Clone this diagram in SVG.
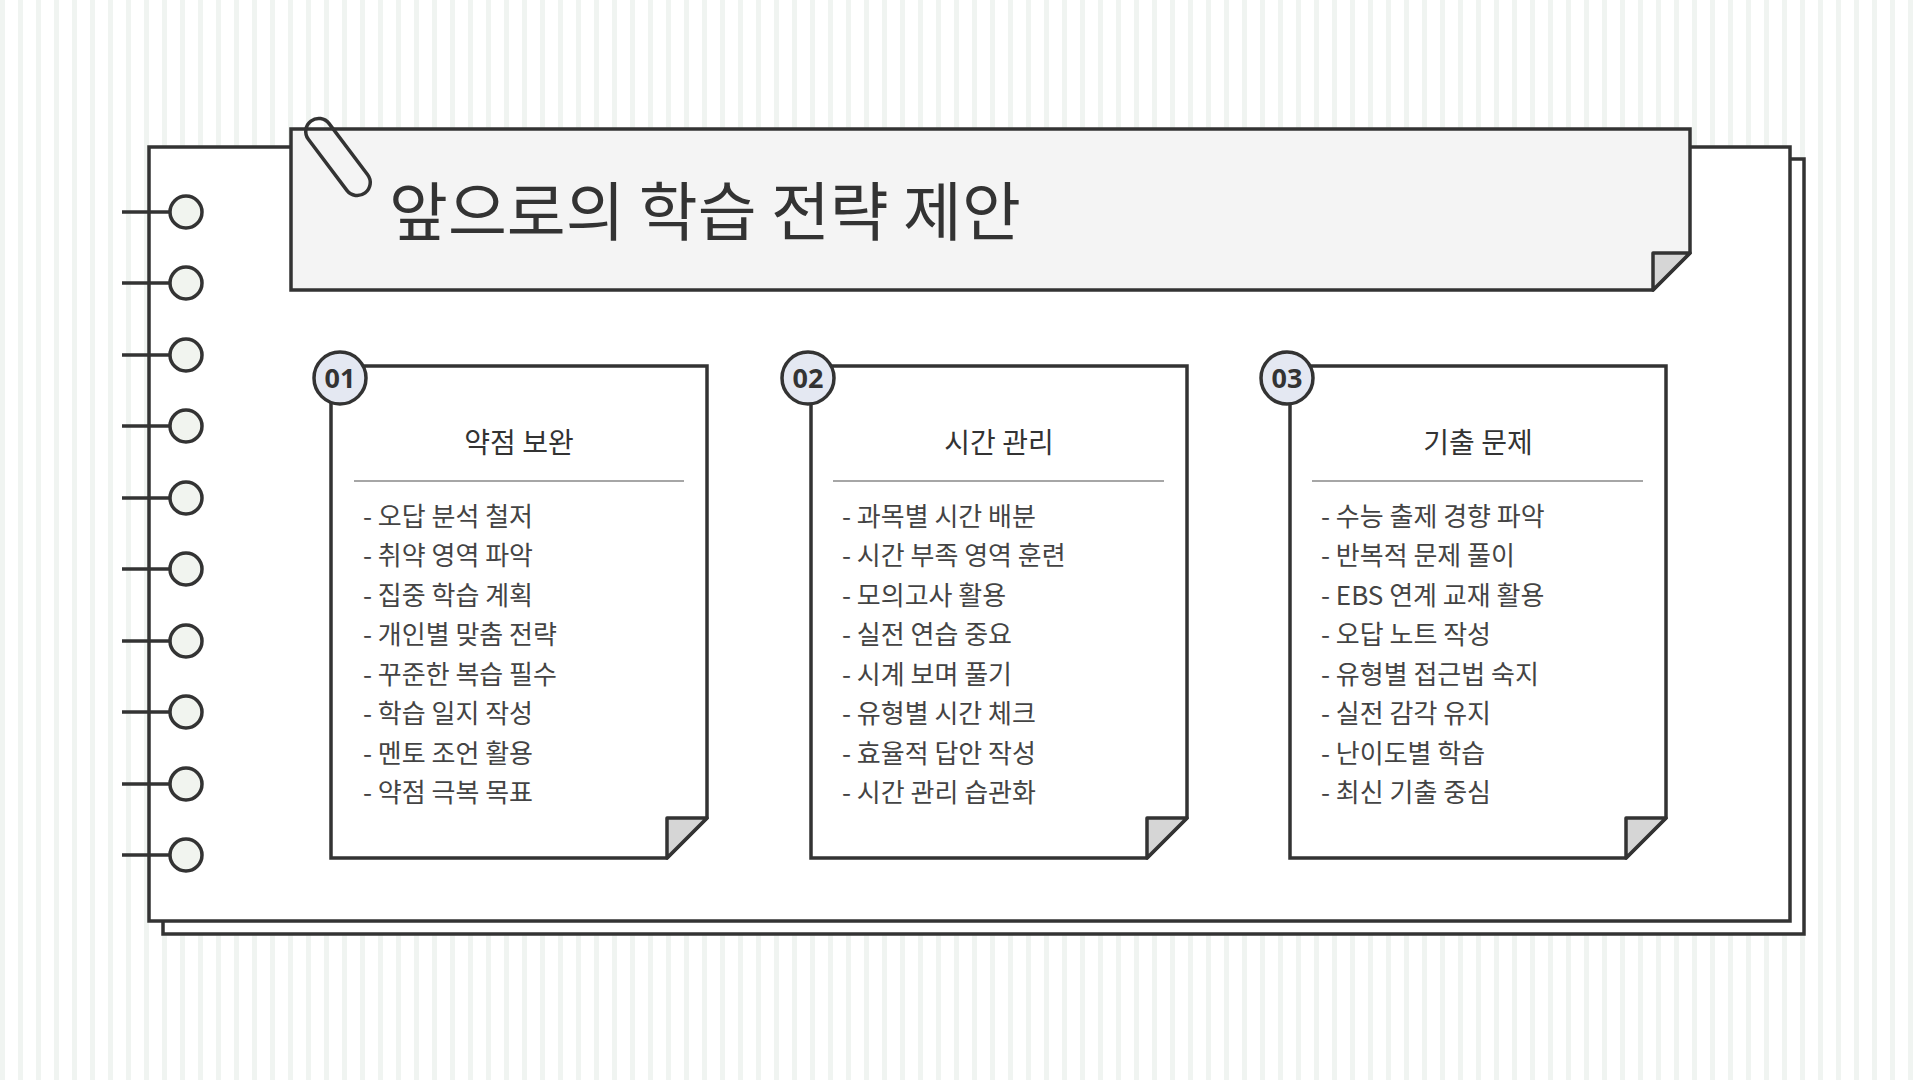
<svg xmlns="http://www.w3.org/2000/svg" width="1920" height="1080" viewBox="0 0 1920 1080">
<defs>
<pattern id="stripes" width="18" height="18" patternUnits="userSpaceOnUse"><rect width="18" height="18" fill="#ffffff"/><rect x="0" width="5" height="18" fill="#f0f4f1"/></pattern>
<style>
.ln{fill:none;stroke:#333;stroke-width:3.5}
.page{fill:#fff;stroke:#333;stroke-width:3.5}
.fold{fill:#d6d6d6;stroke:#333;stroke-width:3.5;stroke-linejoin:round}
.ring{fill:#f1f4ef;stroke:#333;stroke-width:3.5}
.badge{fill:#e4e8f2;stroke:#333;stroke-width:3.5}
.bt{font-family:"Noto Sans","Noto Sans CJK KR",sans-serif;font-weight:700;font-size:27px;fill:#333;text-anchor:middle}
.ct{font-family:"Noto Sans CJK KR",sans-serif;font-size:28px;fill:#333;text-anchor:middle}
.it{font-family:"Noto Sans CJK KR",sans-serif;font-size:26px;fill:#444}
.dv{stroke:#888;stroke-width:1.5}
</style>
</defs>
<rect width="1920" height="1080" fill="url(#stripes)"/>
<rect x="163" y="159" width="1641" height="775" class="page"/>
<rect x="149" y="147" width="1641" height="774" class="page"/>
<g id="rings">
<g><line x1="122" y1="212" x2="186" y2="212" class="ln"/><circle cx="186" cy="212" r="16" class="ring"/></g>
<g><line x1="122" y1="283" x2="186" y2="283" class="ln"/><circle cx="186" cy="283" r="16" class="ring"/></g>
<g><line x1="122" y1="355" x2="186" y2="355" class="ln"/><circle cx="186" cy="355" r="16" class="ring"/></g>
<g><line x1="122" y1="426" x2="186" y2="426" class="ln"/><circle cx="186" cy="426" r="16" class="ring"/></g>
<g><line x1="122" y1="498" x2="186" y2="498" class="ln"/><circle cx="186" cy="498" r="16" class="ring"/></g>
<g><line x1="122" y1="569" x2="186" y2="569" class="ln"/><circle cx="186" cy="569" r="16" class="ring"/></g>
<g><line x1="122" y1="641" x2="186" y2="641" class="ln"/><circle cx="186" cy="641" r="16" class="ring"/></g>
<g><line x1="122" y1="712" x2="186" y2="712" class="ln"/><circle cx="186" cy="712" r="16" class="ring"/></g>
<g><line x1="122" y1="784" x2="186" y2="784" class="ln"/><circle cx="186" cy="784" r="16" class="ring"/></g>
<g><line x1="122" y1="855" x2="186" y2="855" class="ln"/><circle cx="186" cy="855" r="16" class="ring"/></g>
</g>
<g id="title">
<path d="M291 129 H1690 V253 L1653 290 H291 Z" fill="#f4f4f4" stroke="#333" stroke-width="3.5"/>
<path d="M1653 290 V253 H1690 Z" class="fold"/>
<text x="389" y="235" font-family="Noto Sans CJK KR,sans-serif" font-size="64" fill="#333">앞으로의 학습 전략 제안</text>
<rect x="-45" y="-13" width="90" height="26" rx="13" transform="translate(338,157) rotate(53)" class="ln"/>
</g>
<g id="card1">
<path d="M331 366 H707 V818 L667 858 H331 Z" class="page"/>
<path d="M667 858 V818 H707 Z" class="fold"/>
<circle cx="340" cy="378" r="26" class="badge"/><text x="340" y="388" class="bt">01</text>
<text x="519" y="453" class="ct">약점 보완</text>
<line x1="354" y1="481" x2="684" y2="481" class="dv"/>
<text class="it" x="363" y="526">- 오답 분석 철저</text>
<text class="it" x="363" y="565">- 취약 영역 파악</text>
<text class="it" x="363" y="605">- 집중 학습 계획</text>
<text class="it" x="363" y="644">- 개인별 맞춤 전략</text>
<text class="it" x="363" y="684">- 꾸준한 복습 필수</text>
<text class="it" x="363" y="723">- 학습 일지 작성</text>
<text class="it" x="363" y="763">- 멘토 조언 활용</text>
<text class="it" x="363" y="802">- 약점 극복 목표</text>
</g>
<g id="card2">
<path d="M811 366 H1187 V818 L1147 858 H811 Z" class="page"/>
<path d="M1147 858 V818 H1187 Z" class="fold"/>
<circle cx="808" cy="378" r="26" class="badge"/><text x="808" y="388" class="bt">02</text>
<text x="999" y="453" class="ct">시간 관리</text>
<line x1="833" y1="481" x2="1164" y2="481" class="dv"/>
<text class="it" x="842" y="526">- 과목별 시간 배분</text>
<text class="it" x="842" y="565">- 시간 부족 영역 훈련</text>
<text class="it" x="842" y="605">- 모의고사 활용</text>
<text class="it" x="842" y="644">- 실전 연습 중요</text>
<text class="it" x="842" y="684">- 시계 보며 풀기</text>
<text class="it" x="842" y="723">- 유형별 시간 체크</text>
<text class="it" x="842" y="763">- 효율적 답안 작성</text>
<text class="it" x="842" y="802">- 시간 관리 습관화</text>
</g>
<g id="card3">
<path d="M1290 366 H1666 V818 L1626 858 H1290 Z" class="page"/>
<path d="M1626 858 V818 H1666 Z" class="fold"/>
<circle cx="1287" cy="378" r="26" class="badge"/><text x="1287" y="388" class="bt">03</text>
<text x="1478" y="453" class="ct">기출 문제</text>
<line x1="1312" y1="481" x2="1643" y2="481" class="dv"/>
<text class="it" x="1321" y="526">- 수능 출제 경향 파악</text>
<text class="it" x="1321" y="565">- 반복적 문제 풀이</text>
<text class="it" x="1321" y="605">- EBS 연계 교재 활용</text>
<text class="it" x="1321" y="644">- 오답 노트 작성</text>
<text class="it" x="1321" y="684">- 유형별 접근법 숙지</text>
<text class="it" x="1321" y="723">- 실전 감각 유지</text>
<text class="it" x="1321" y="763">- 난이도별 학습</text>
<text class="it" x="1321" y="802">- 최신 기출 중심</text>
</g>
<g id="connectors"/>
</svg>
